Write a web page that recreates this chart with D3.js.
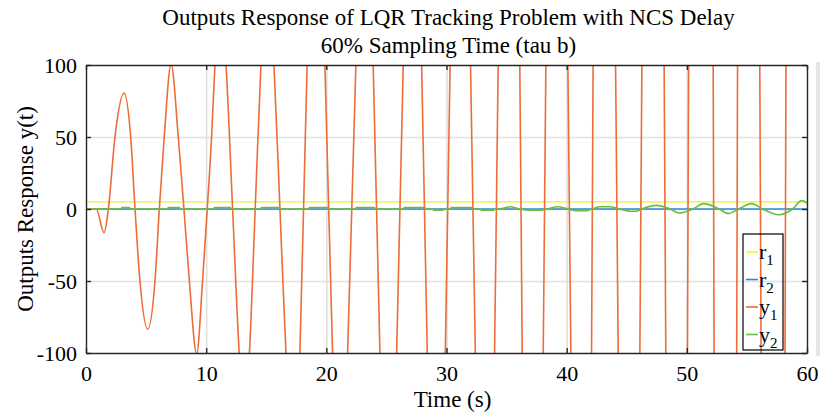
<!DOCTYPE html>
<html>
<head>
<meta charset="utf-8">
<script src="https://cdn.jsdelivr.net/npm/d3@7"></script>
<style>
  body { margin: 0; background: #fff; }
  svg text { font-family: "Liberation Serif", "Times New Roman", serif; fill: #000; }
</style>
</head>
<body>
<div id="plot"></div>
<script>
// data
const xTicks = [0, 10, 20, 30, 40, 50, 60];
const yTicks = [-100, -50, 0, 50, 100];
const seriesNames = ["r1", "r2", "y1", "y2"];

// reference signals
const r1Points = [[0, 5], [60, 5]];
const r2Points = [[0, 0], [60, 0]];

// y1: read peaks and the places where it leaves / enters the +-100 box
const y1Points = [
  [0, 0], [0.85, 0], [1.5, -16.5], [1.86, 0], [2.41, 50], [3.16, 80.5], [3.72, 50], [4.08, 0],
  [4.49, -50], [5.13, -83.5], [5.74, -50], [6.1, 0], [6.51, 50], [7.08, 100.5], [7.68, 50],
  [8.15, 0], [8.6, -50], [9.21, -100.5], [9.7, -50], [10.09, 0], [10.45, 50], [10.73, 100],
  [11.19, 140], [11.65, 100], [12.2, 0], [12.75, -100], [13.17, -145], [13.6, -100], [14.08, 0],
  [14.56, 100], [15.1, 160], [15.64, 100], [16.14, 0], [16.64, -100], [17.22, -180], [17.8, -100],
  [18.4, 100], [19.14, 220], [19.88, 100], [20.52, -100], [21.15, -195], [21.77, -100],
  [22.46, 100], [23.18, 215], [23.9, 100], [24.46, -100], [25.15, -225], [25.85, -100],
  [26.4, 100], [27.17, 250], [27.93, 100], [28.4, -100], [29.15, -273], [29.9, -100],
  [30.3, 100], [31.15, 312], [32.0, 100], [32.4, -100], [33.2, -333], [34.0, -100],
  [34.3, 100], [35.2, 475], [36.1, 100], [36.3, -100], [37.18, -515], [38.05, -100],
  [38.27, 100], [39.18, 500], [40.1, 100], [40.35, -100], [41.2, -546], [42.07, -100],
  [42.2, 100], [43.15, 660], [44.07, 100], [44.29, -100], [45.18, -600], [46.09, -100],
  [46.26, 100], [47.18, 700], [48.11, 100], [48.25, -100], [49.15, -750], [50.05, -100],
  [50.15, 100], [51.17, 850], [52.19, 100], [52.27, -100], [53.2, -900], [54.15, -100],
  [54.22, 100], [55.15, 1000], [56.07, 100], [56.18, -100], [57.2, -1100], [58.17, -100],
  [58.25, 100], [59.2, 1200], [60, 900]
];

// y2: small bumps around zero, growing after ~35 s
const y2Points = [
  [0, 0], [2.9, 0], [3.0, 1.0], [3.6, 1.0], [3.7, 0], [6.75, 0], [6.85, 1.0], [7.76, 1.0], [7.86, 0],
  [10.6, 0], [10.7, 1.0], [12.0, 1.0], [12.1, 0], [14.5, 0], [14.6, 1.0], [16.1, 1.0], [16.2, 0],
  [18.5, 0], [18.6, 1.0], [20.1, 1.0], [20.2, 0], [22.4, 0], [22.5, 1.0], [24.0, 1.0], [24.1, 0],
  [26.4, 0], [26.5, 1.0], [28.2, 1.0], [28.3, 0], [28.85, 0], [28.95, -0.8], [29.7, -0.8], [29.8, 0],
  [30.3, 0], [30.4, 1.0], [32.1, 1.0], [32.2, 0], [32.8, 0], [32.9, -0.8], [33.9, -0.8], [34.0, 0],
  [34.45, 0], [35.3, 1.6], [36.1, 0], [36.8, -0.8], [37.9, -0.8], [38.4, 0], [39.25, 1.6], [40.1, 0],
  [40.8, -1.2], [41.65, -1.2], [42.1, 0], [42.8, 1.6], [43.6, 1.6], [44.4, 0], [45.3, -1.6],
  [45.8, -1.6], [46.25, 0], [47.45, 2.5], [48.6, 0], [49.35, -2.8], [50.5, 0], [51.4, 3.7],
  [52.7, 0], [53.45, -3.2], [54.3, 0], [55.4, 3.7], [56.3, 0], [57.65, -4.0], [58.8, 0],
  [59.55, 5.8], [60, 4.1]
];

const colors = { r1: "#f6f531", r2: "#2b8ad6", y1: "#ee6c38", y2: "#6dbd3a" };

const width = 820, height = 412;
const margin = { top: 65, right: 13, bottom: 59, left: 86 };
const plotW = width - margin.left - margin.right;
const plotH = height - margin.top - margin.bottom;

const svg = d3.select("div#plot")
  .append("svg")
  .attr("width", width)
  .attr("height", height);

const x = d3.scaleLinear().domain([0, 60]).range([0, plotW]);
const y = d3.scaleLinear().domain([-100, 100]).range([plotH, 0]);

// faint grey edge seen at the far right of the screenshot
svg.append("rect")
  .attr("x", 816)
  .attr("y", margin.top - 3)
  .attr("width", 4)
  .attr("height", plotH + 6)
  .attr("fill", "#e6e6e6");

const g = svg.append("g")
  .attr("transform", `translate(${margin.left},${margin.top})`);

svg.append("defs").append("clipPath")
  .attr("id", "clip")
  .append("rect")
  .attr("width", plotW)
  .attr("height", plotH);

// grid
g.append("g")
  .attr("transform", `translate(0,${plotH})`)
  .call(d3.axisBottom(x).tickValues(xTicks.slice(1, -1)).tickSize(-plotH).tickFormat(""))
  .call(a => a.select(".domain").remove())
  .selectAll("line").attr("stroke", "#e0e0e0").attr("stroke-width", 1.6);
g.append("g")
  .call(d3.axisLeft(y).tickValues(yTicks.slice(1, -1)).tickSize(-plotW).tickFormat(""))
  .call(a => a.select(".domain").remove())
  .selectAll("line").attr("stroke", "#e0e0e0").attr("stroke-width", 1.6);

// lines
const line = d3.line()
  .x(d => x(d[0]))
  .y(d => y(d[1]))
  .curve(d3.curveMonotoneX);

const lines = g.append("g").attr("clip-path", "url(#clip)");
[[r1Points, "r1"], [r2Points, "r2"], [y1Points, "y1"], [y2Points, "y2"]].forEach(([pts, key]) => {
  lines.append("path")
    .datum(pts)
    .attr("fill", "none")
    .attr("stroke", colors[key])
    .attr("stroke-width", 1.6)
    .attr("d", line);
});

// axes (ticks pointing inward, box on)
const axisColor = "#262626";
const styleAxis = sel => {
  sel.select(".domain").attr("stroke", axisColor).attr("stroke-width", 1.4);
  sel.selectAll(".tick line").attr("stroke", axisColor).attr("stroke-width", 1.4);
  sel.selectAll("text").style("font-size", "22px").attr("fill", "#000");
};
const plain = d => String(d);

g.append("g")
  .attr("transform", `translate(0,${plotH})`)
  .call(d3.axisBottom(x).tickValues(xTicks).tickFormat(plain).tickSizeInner(-5).tickSizeOuter(0).tickPadding(12))
  .call(styleAxis);
g.append("g")
  .call(d3.axisTop(x).tickValues(xTicks).tickSizeInner(-5).tickSizeOuter(0).tickFormat(""))
  .call(styleAxis);
g.append("g")
  .call(d3.axisLeft(y).tickValues(yTicks).tickFormat(plain).tickSizeInner(-5).tickSizeOuter(0).tickPadding(9))
  .call(styleAxis);
g.append("g")
  .attr("transform", `translate(${plotW},0)`)
  .call(d3.axisRight(y).tickValues(yTicks).tickSizeInner(-5).tickSizeOuter(0).tickFormat(""))
  .call(styleAxis);

// titles
svg.append("text")
  .attr("x", margin.left + plotW / 2 + 2)
  .attr("y", 25)
  .attr("text-anchor", "middle")
  .style("font-size", "23px")
  .text("Outputs Response of LQR Tracking Problem with NCS Delay");
svg.append("text")
  .attr("x", margin.left + plotW / 2 + 2)
  .attr("y", 53)
  .attr("text-anchor", "middle")
  .style("font-size", "23px")
  .text("60% Sampling Time (tau b)");

svg.append("text")
  .attr("x", margin.left + plotW / 2 + 6)
  .attr("y", 407)
  .attr("text-anchor", "middle")
  .style("font-size", "23px")
  .text("Time (s)");

svg.append("text")
  .attr("transform", `translate(33,${margin.top + plotH / 2}) rotate(-90)`)
  .attr("text-anchor", "middle")
  .style("font-size", "23px")
  .text("Outputs Response y(t)");

// legend
const legend = svg.append("g").attr("transform", "translate(743,234)");
legend.append("rect")
  .attr("width", 40)
  .attr("height", 116)
  .attr("fill", "none")
  .attr("stroke", "#000")
  .attr("stroke-width", 1.2);
seriesNames.forEach((name, i) => {
  const yy = 18 + i * 27.5;
  legend.append("line")
    .attr("x1", 3).attr("x2", 15)
    .attr("y1", yy).attr("y2", yy)
    .attr("stroke", colors[name])
    .attr("stroke-width", 1.6);
  const t = legend.append("text")
    .attr("x", 16)
    .attr("y", yy + 7)
    .style("font-size", "22px");
  t.append("tspan").text(name[0]);
  t.append("tspan")
    .attr("dy", 6)
    .style("font-size", "15px")
    .text(name[1]);
});
</script>
</body>
</html>
